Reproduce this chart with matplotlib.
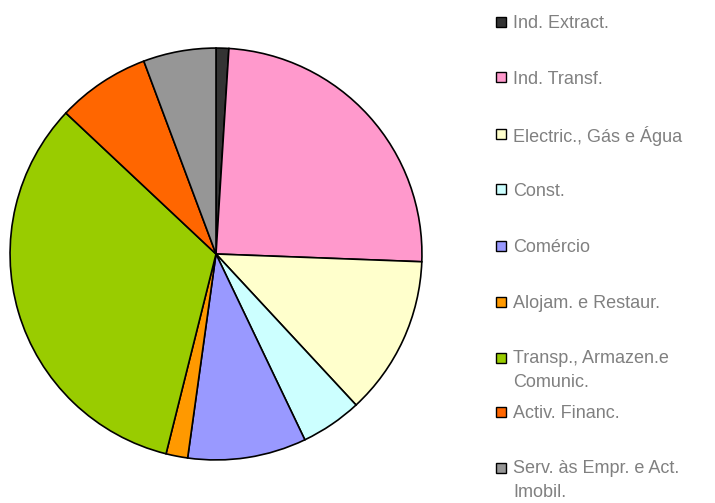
import matplotlib.pyplot as plt
from matplotlib.patches import Rectangle

plt.rcParams['font.family'] = ['Liberation Sans', 'DejaVu Sans']

# sector shares (%)
labels = ['Ind. Extract.', 'Ind. Transf.', 'Electric., Gás e Água', 'Const.',
          'Comércio', 'Alojam. e Restaur.', 'Transp., Armazen.e\nComunic.',
          'Activ. Financ.', 'Serv. às Empr. e Act.\nImobil.']
shares = [1.0, 24.6, 12.5, 4.8, 9.3, 1.7, 33.1, 7.3, 5.7]
colors = ['#333333', '#FF99CC', '#FFFFCC', '#CCFFFF', '#9999FF',
          '#FF9900', '#99CC00', '#FF6600', '#969696']

W, H = 715, 503
fig = plt.figure(figsize=(W / 100, H / 100), dpi=100)

# pie: centre (216, 254) px, radius 208 px
cx, cy, r = 216, 254, 208
ax = fig.add_axes([(cx - r) / W, (H - cy - r) / H, 2 * r / W, 2 * r / H])
ax.pie(shares, colors=colors, startangle=90, counterclock=False, radius=1,
       wedgeprops=dict(edgecolor='black', linewidth=1.2))
ax.set_xlim(-1.01, 1.01)
ax.set_ylim(-1.01, 1.01)
ax.set_aspect('equal')
ax.axis('off')

# legend drawn by hand (uneven spacing in the original)
item_y = [22, 77, 134, 189, 246, 302, 358, 412, 468]
for lab, col, y in zip(labels, colors, item_y):
    fig.patches.append(Rectangle((496 / W, (H - y - 5) / H), 10 / W, 10 / H,
                                 transform=fig.transFigure, facecolor=col,
                                 edgecolor='black', linewidth=1))
    two = '\n' in lab
    fig.text(513 / W, (H - y + (8 if two else -2)) / H, lab, color='#808080',
             fontsize=13, va='top' if two else 'center', ha='left',
             linespacing=1.55)

fig.savefig('out.png', dpi=100)
